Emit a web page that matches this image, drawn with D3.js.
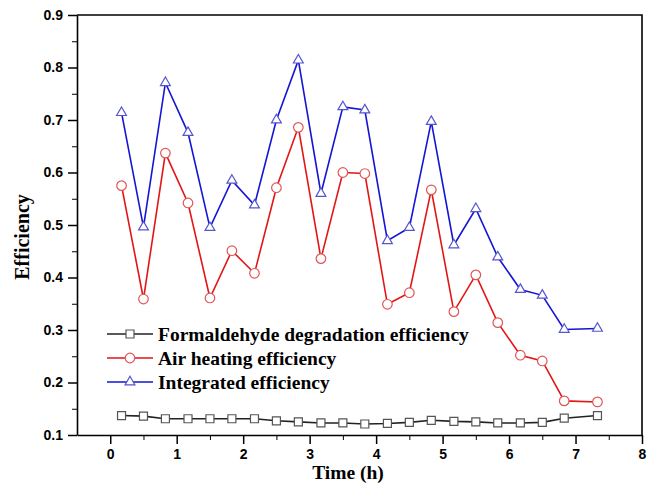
<!DOCTYPE html>
<html>
<head>
<meta charset="utf-8">
<script src="https://cdn.jsdelivr.net/npm/d3@7"></script>
<style>
  body { margin: 0; background: #fff; }
  svg { display: block; }
</style>
</head>
<body>
<div id="chart"></div>
<script>
// data
const times = [0.17, 0.5, 0.83, 1.17, 1.5, 1.83, 2.17, 2.5, 2.83, 3.17, 3.5,
  3.83, 4.17, 4.5, 4.83, 5.17, 5.5, 5.83, 6.17, 6.5, 6.83, 7.33];
const formaldehyde = [0.137, 0.136, 0.131, 0.131, 0.131, 0.131, 0.131, 0.127, 0.125, 0.123, 0.123,
  0.121, 0.122, 0.124, 0.128, 0.126, 0.125, 0.123, 0.123, 0.124, 0.132, 0.137];
const airHeating = [0.575, 0.359, 0.637, 0.542, 0.361, 0.451, 0.408, 0.571, 0.686, 0.436, 0.6,
  0.598, 0.349, 0.371, 0.567, 0.335, 0.405, 0.314, 0.252, 0.241, 0.165, 0.163];
const integrated = [0.714, 0.496, 0.771, 0.676, 0.495, 0.585, 0.538, 0.7, 0.814, 0.56, 0.725,
  0.719, 0.47, 0.495, 0.697, 0.462, 0.531, 0.439, 0.377, 0.366, 0.301, 0.303];
const xTicks = [0, 1, 2, 3, 4, 5, 6, 7, 8];
const yTicks = [0.1, 0.2, 0.3, 0.4, 0.5, 0.6, 0.7, 0.8, 0.9];
const seriesNames = ['Formaldehyde degradation efficiency', 'Air heating efficiency', 'Integrated efficiency'];

const W = 656, H = 484;
const margin = { top: 15, right: 14, bottom: 49, left: 77 };
const width = W - margin.left - margin.right;
const height = H - margin.top - margin.bottom;

const svg = d3.select('#chart').append('svg')
  .attr('width', W).attr('height', H);
const g = svg.append('g')
  .attr('transform', `translate(${margin.left},${margin.top})`);

const x = d3.scaleLinear().domain([-0.5, 8]).range([0, width]);
const y = d3.scaleLinear().domain([0.1, 0.9]).range([height, 0]);

const tickFont = '"Liberation Sans", Arial, sans-serif';
const serif = '"Liberation Serif", "Times New Roman", serif';

// minor ticks first
g.append('g')
  .attr('transform', `translate(0,${height})`)
  .call(d3.axisBottom(x).tickValues(d3.range(0.5, 8, 1)).tickSize(5).tickFormat(''))
  .call(a => a.select('.domain').remove());
g.append('g')
  .call(d3.axisLeft(y).tickValues(d3.range(0.15, 0.9, 0.1)).tickSize(5).tickFormat(''))
  .call(a => a.select('.domain').remove());

// major ticks
const xAxis = g.append('g')
  .attr('transform', `translate(0,${height})`)
  .call(d3.axisBottom(x).tickValues(xTicks).tickSize(9).tickSizeOuter(0).tickPadding(5).tickFormat(d3.format('d')));
const yAxis = g.append('g')
  .call(d3.axisLeft(y).tickValues(yTicks).tickSize(9).tickSizeOuter(0).tickPadding(5).tickFormat(d3.format('.1f')));

[xAxis, yAxis].forEach(a => {
  a.selectAll('text').attr('font-family', tickFont).attr('font-weight', 'bold')
    .attr('font-size', 14).attr('fill', '#000');
  a.selectAll('line').attr('stroke', '#000').attr('stroke-width', 1.5);
  a.select('.domain').attr('stroke', '#000').attr('stroke-width', 1.6);
});

// frame top and right
g.append('path')
  .attr('d', `M0,0H${width}V${height}`)
  .attr('fill', 'none').attr('stroke', '#000').attr('stroke-width', 1.6);

// axis titles
svg.append('text')
  .attr('x', 348).attr('y', 479)
  .attr('text-anchor', 'middle')
  .attr('font-family', serif).attr('font-weight', 'bold').attr('font-size', 19.5)
  .text('Time (h)');
svg.append('text')
  .attr('transform', 'translate(29,237) rotate(-90)')
  .attr('text-anchor', 'middle')
  .attr('font-family', serif).attr('font-weight', 'bold').attr('font-size', 20)
  .text('Efficiency');

const series = [
  { name: seriesNames[0], values: formaldehyde, line: '#222', mark: '#555', shape: 'square' },
  { name: seriesNames[1], values: airHeating, line: '#e31515', mark: '#e05555', shape: 'circle' },
  { name: seriesNames[2], values: integrated, line: '#1515d5', mark: '#5555d0', shape: 'triangle' }
];

const symbols = {
  square: d3.symbol().type(d3.symbolSquare).size(64),
  circle: d3.symbol().type(d3.symbolCircle).size(72),
  triangle: d3.symbol().type(d3.symbolTriangle).size(42)
};

const line = d3.line().x(d => x(d[0])).y(d => y(d[1]));

series.forEach(s => {
  const pts = times.map((t, i) => [t, s.values[i]]);
  g.append('path')
    .datum(pts)
    .attr('d', line)
    .attr('fill', 'none')
    .attr('stroke', s.line)
    .attr('stroke-width', 1.6);
  g.selectAll(null)
    .data(pts)
    .enter()
    .append('path')
    .attr('d', symbols[s.shape])
    .attr('transform', d => `translate(${x(d[0])},${y(d[1])})`)
    .attr('fill', '#fff')
    .attr('stroke', s.mark)
    .attr('stroke-width', 1.2);
});

// legend
const legend = svg.append('g').attr('transform', 'translate(107,334)');
series.forEach((s, i) => {
  const row = legend.append('g').attr('transform', `translate(0,${i * 24})`);
  row.append('line').attr('x1', 0).attr('x2', 46).attr('y1', 0).attr('y2', 0)
    .attr('stroke', s.line).attr('stroke-width', 1.6);
  row.append('path').attr('d', symbols[s.shape])
    .attr('transform', 'translate(23,0)')
    .attr('fill', '#fff').attr('stroke', s.mark).attr('stroke-width', 1.2);
  row.append('text')
    .attr('x', 51).attr('y', 6.5)
    .attr('font-family', serif).attr('font-weight', 'bold').attr('font-size', 19.5)
    .text(s.name);
});
</script>
</body>
</html>
